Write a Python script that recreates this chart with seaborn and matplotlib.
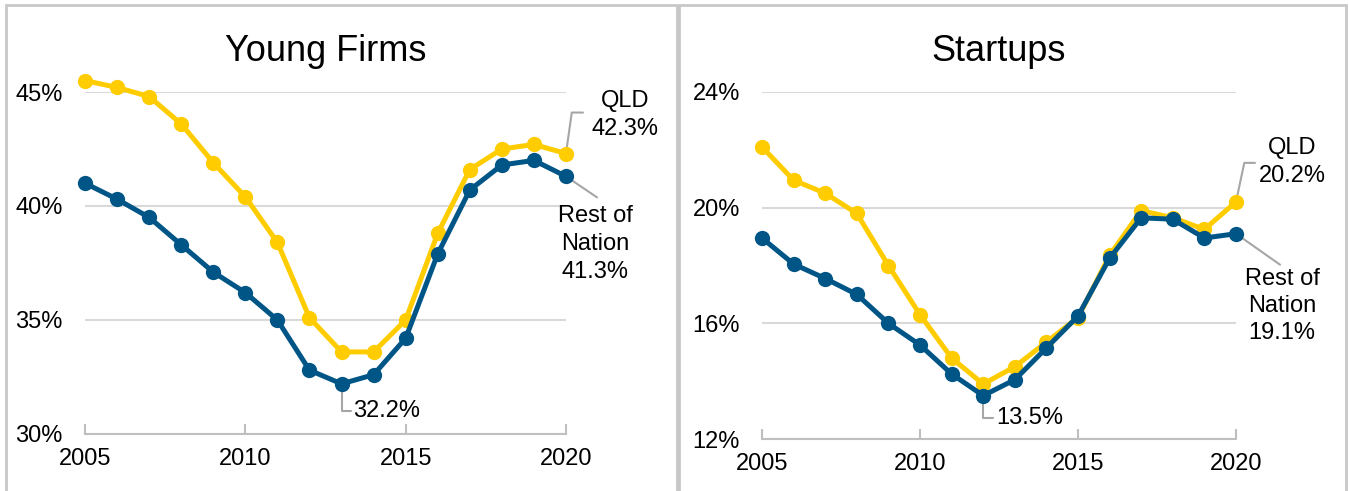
import pandas as pd
import seaborn as sns
import matplotlib
matplotlib.use("Agg")
import matplotlib.pyplot as plt
from matplotlib.patches import Rectangle
from matplotlib.ticker import FuncFormatter

# Share of young firms and startups, QLD vs rest of nation (%)
years = list(range(2005, 2021))

young_qld = [45.5, 45.2, 44.8, 43.6, 41.9, 40.4, 38.4, 35.1,
             33.6, 33.6, 35.0, 38.8, 41.6, 42.5, 42.7, 42.3]
young_rest = [41.0, 40.3, 39.5, 38.3, 37.1, 36.2, 35.0, 32.8,
              32.2, 32.6, 34.2, 37.9, 40.7, 41.8, 42.0, 41.3]

startup_qld = [22.1, 20.95, 20.5, 19.8, 18.0, 16.3, 14.8, 13.9,
               14.5, 15.35, 16.2, 18.35, 19.9, 19.65, 19.25, 20.2]
startup_rest = [18.95, 18.05, 17.55, 17.0, 16.0, 15.25, 14.25, 13.5,
                14.05, 15.15, 16.25, 18.25, 19.65, 19.6, 18.95, 19.1]

young_ticks = [30, 35, 40, 45]
startup_ticks = [12, 16, 20, 24]
year_ticks = [2005, 2010, 2015, 2020]

QLD_COLOR = "#FFCC00"
REST_COLOR = "#005587"
GRID_COLOR = "#D9D9D9"
FRAME_COLOR = "#C8C8C8"

sns.set_theme(style="white")
plt.rcParams["font.family"] = ["Liberation Sans", "DejaVu Sans"]
plt.rcParams["text.color"] = "black"
plt.rcParams["xtick.labelcolor"] = "black"
plt.rcParams["ytick.labelcolor"] = "black"

W, H = 1349, 491
fig = plt.figure(figsize=(W / 100, H / 100), dpi=100)

# panel frames
for x0, x1 in [(5.5, 676.5), (678.5, 1345.5)]:
    fig.add_artist(Rectangle((x0 / W, -0.05), (x1 - x0) / W, 1.05 - 5.5 / H,
                             transform=fig.transFigure, fill=False,
                             edgecolor=FRAME_COLOR, lw=2))

ax1 = fig.add_axes([85 / W, 57 / H, 481 / W, 342 / H])
ax2 = fig.add_axes([762 / W, 52 / H, 474 / W, 347 / H])


def draw_panel(ax, title, qld, rest, ticks):
    df = pd.DataFrame({"year": years, "qld": qld, "rest": rest})
    sns.lineplot(data=df, x="year", y="qld", ax=ax, color=QLD_COLOR, lw=3.6,
                 marker="o", markersize=11, markeredgewidth=0, clip_on=False,
                 zorder=3)
    sns.lineplot(data=df, x="year", y="rest", ax=ax, color=REST_COLOR, lw=3.6,
                 marker="o", markersize=11, markeredgewidth=0, clip_on=False,
                 zorder=4)
    ax.set_xlim(2005, 2020)
    ax.set_ylim(ticks[0], ticks[-1])
    ax.set_yticks(ticks)
    ax.set_xticks(year_ticks)
    ax.yaxis.set_major_formatter(FuncFormatter(lambda v, p: f"{v:.0f}%"))
    ax.set_xlabel("")
    ax.set_ylabel("")
    ax.grid(axis="y", color=GRID_COLOR, lw=1.5)
    ax.grid(axis="x", visible=False)
    for s in ["top", "right", "left"]:
        ax.spines[s].set_visible(False)
    ax.spines["bottom"].set_color("#BFBFBF")
    ax.spines["bottom"].set_linewidth(1.5)
    ax.tick_params(axis="x", direction="in", length=7, width=1.5,
                   color="#BFBFBF", labelsize=17, pad=10, bottom=True)
    ax.tick_params(axis="y", length=0, labelsize=17, pad=16)
    ax.set_title(title, fontsize=26, pad=22, color="black")


def leader(ax, xy, end, style):
    ax.annotate("", xy=xy, xycoords="data", xytext=end,
                textcoords="offset pixels",
                arrowprops=dict(arrowstyle="-", color="#A6A6A6", lw=1.5,
                                shrinkA=0, shrinkB=4, connectionstyle=style),
                zorder=2)


draw_panel(ax1, "Young Firms", young_qld, young_rest, young_ticks)
draw_panel(ax2, "Startups", startup_qld, startup_rest, startup_ticks)

# Young firms labels
leader(ax1, (2020, young_qld[-1]), (17, 41), "angle,angleA=0,angleB=82")
ax1.annotate(f"QLD\n{young_qld[-1]:.1f}%", xy=(2020, young_qld[-1]),
             xytext=(59, 39), textcoords="offset pixels", ha="center",
             va="center", fontsize=17, linespacing=1.35, annotation_clip=False)
leader(ax1, (2020, young_rest[-1]), (31, -21), "arc3")
ax1.annotate(f"Rest of\nNation\n{young_rest[-1]:.1f}%",
             xy=(2020, young_rest[-1]), xytext=(29, -68),
             textcoords="offset pixels", ha="center", va="center",
             fontsize=17, linespacing=1.35, annotation_clip=False)
low = young_rest.index(min(young_rest))
leader(ax1, (years[low], young_rest[low]), (9, -27),
       "angle,angleA=0,angleB=90")
ax1.annotate(f"{young_rest[low]:.1f}%", xy=(years[low], young_rest[low]),
             xytext=(12, -27), textcoords="offset pixels", ha="left",
             va="center", fontsize=17)

# Startups labels
leader(ax2, (2020, startup_qld[-1]), (19, 39), "angle,angleA=0,angleB=78")
ax2.annotate(f"QLD\n{startup_qld[-1]:.1f}%", xy=(2020, startup_qld[-1]),
             xytext=(56, 40), textcoords="offset pixels", ha="center",
             va="center", fontsize=17, linespacing=1.35, annotation_clip=False)
leader(ax2, (2020, startup_rest[-1]), (44, -31), "arc3")
ax2.annotate(f"Rest of\nNation\n{startup_rest[-1]:.1f}%",
             xy=(2020, startup_rest[-1]), xytext=(46, -72),
             textcoords="offset pixels", ha="center", va="center",
             fontsize=17, linespacing=1.3, annotation_clip=False)
low = startup_rest.index(min(startup_rest))
leader(ax2, (years[low], startup_rest[low]), (10, -22),
       "angle,angleA=0,angleB=90")
ax2.annotate(f"{startup_rest[low]:.1f}%", xy=(years[low], startup_rest[low]),
             xytext=(13, -22), textcoords="offset pixels", ha="left",
             va="center", fontsize=17)

fig.savefig("out.png", dpi=100)
